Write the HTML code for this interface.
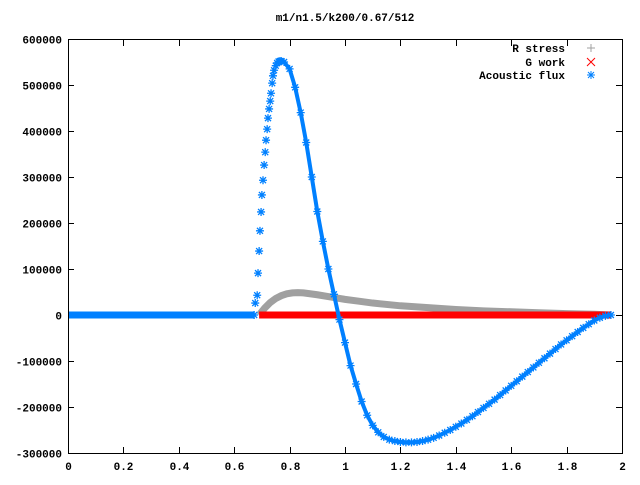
<!DOCTYPE html>
<html><head><meta charset="utf-8"><style>
body{margin:0;background:#fff}
svg text{font-family:"Liberation Mono","DejaVu Sans Mono",monospace;font-size:11px;font-weight:bold;fill:#000}
</style></head><body>
<svg id="chart" width="640" height="480" xmlns="http://www.w3.org/2000/svg">
<rect width="640" height="480" fill="#fff"/>
<text x="345" y="21" text-anchor="middle">m1/n1.5/k200/0.67/512</text>
<g id="grid"></g>
<g id="marks"></g>
<rect x="68.5" y="39.5" width="554" height="414" fill="none" stroke="#000"/>
<g id="legend">
<text x="565" y="52" text-anchor="end">R stress</text>
<text x="565" y="66" text-anchor="end">G work</text>
<text x="565" y="79" text-anchor="end">Acoustic flux</text>
<path d="M587 48h8M591 44v8" stroke="#a0a0a0"/>
<path d="M587 58l8 8M595 58l-8 8" stroke="#ff0000"/>
<path d="M587 75h8M591 71v8M588 72l6 6M594 72l-6 6" stroke="#0080ff"/>
</g>
</svg>
<script>
const xTicks=[0,0.2,0.4,0.6,0.8,1,1.2,1.4,1.6,1.8,2];
const xTickLabels=["0","0.2","0.4","0.6","0.8","1","1.2","1.4","1.6","1.8","2"];
const yTicks=[600000,500000,400000,300000,200000,100000,0,-100000,-200000,-300000];
const yTickLabels=["600000","500000","400000","300000","200000","100000","0","-100000","-200000","-300000"];
const fluxZeroX=[0,0.67];
const fluxX=[0.672,0.676,0.683,0.686,0.69,0.693,0.697,0.70,0.704,0.708,0.712,0.715,0.719,0.722,0.726,0.73,0.733,0.737,0.74,0.744,0.75,0.755,0.76,0.765,0.77,0.78,0.80,0.82,0.84,0.86,0.88,0.90,0.92,0.94,0.96,0.98,1.00,1.02,1.04,1.06,1.08,1.10,1.12,1.14,1.16,1.18,1.20,1.22,1.24,1.26,1.28,1.30,1.32,1.34,1.36,1.38,1.40,1.42,1.44,1.46,1.48,1.50,1.52,1.54,1.56,1.58,1.60,1.62,1.64,1.66,1.68,1.70,1.72,1.74,1.76,1.78,1.80,1.82,1.84,1.86,1.88,1.90,1.92,1.94,1.96];
const fluxY=[0,26000,43000,91000,139000,183000,224000,261000,293000,326000,354000,380000,404000,428000,448000,465000,482000,504000,520000,532000,542000,548000,551000,552000,552000,550000,535000,495000,440000,375000,300000,225000,160000,100000,45000,-10000,-60000,-110000,-150000,-188000,-218000,-240000,-255000,-265000,-271000,-274000,-276000,-277000,-277000,-276000,-274000,-271000,-267000,-262000,-256000,-250000,-243000,-236000,-228000,-220000,-211000,-202000,-193000,-184000,-174000,-164000,-154000,-144000,-134000,-124000,-114000,-104000,-94000,-84000,-74000,-64000,-55000,-46000,-37000,-28000,-20000,-12000,-6000,-2000,0];
const stressX=[0.69,0.71,0.73,0.75,0.77,0.79,0.81,0.83,0.85,0.87,0.90,0.95,1.0,1.05,1.1,1.2,1.3,1.4,1.5,1.6,1.7,1.8,1.9,1.96];
const stressY=[0,15000,27000,36000,42000,46000,48000,48500,48000,46500,44000,39000,34000,30000,26000,20000,16000,12000,9000,7000,5000,3000,1500,0];
const workX=[0.69,1.96];
const workY=[0,0];

const X=v=>68+v*277, Y=v=>315-v*0.00046;
const NS="http://www.w3.org/2000/svg";
const grid=document.getElementById('grid'), marks=document.getElementById('marks');
function mk(tag,attrs,parent){const e=document.createElementNS(NS,tag);for(const k in attrs)e.setAttribute(k,attrs[k]);parent.appendChild(e);return e;}
xTicks.forEach((t,i)=>{
  const x=Math.round(X(t))+0.5;
  const tk=mk('path',{d:`M${x} 453v-6M${x} 40v6`,stroke:'#000'},grid);
  
  
  const lb=mk('text',{x:x,y:470,'text-anchor':'middle'},grid);lb.textContent=xTickLabels[i];
  
  
});
yTicks.forEach((t,i)=>{
  const y=Math.round(Y(t))+0.5;
  const tk=mk('path',{d:`M68 ${y}h6M622 ${y}h-6`,stroke:'#000'},grid);
  
  
  const lb=mk('text',{x:62,y:y+4,'text-anchor':'end'},grid);lb.textContent=yTickLabels[i];
  
  
});
// acoustic flux zero band
const fz=mk('line',{x1:X(fluxZeroX[0]),y1:Y(0),x2:X(fluxZeroX[1]),y2:Y(0),stroke:'#0080ff','stroke-width':7},marks);


// R stress
const sp=mk('polyline',{points:stressX.map((x,i)=>X(x)+','+Y(stressY[i])).join(' '),fill:'none',stroke:'#a0a0a0','stroke-width':7},marks);


// G work
const wp=mk('line',{x1:X(workX[0]),y1:Y(workY[0]),x2:X(workX[1]),y2:Y(workY[1]),stroke:'#ff0000','stroke-width':7},marks);


// acoustic flux band (descending part dense)
const fl=mk('polyline',{points:fluxX.slice(24).map((x,i)=>X(x)+','+Y(fluxY[i+24])).join(' '),fill:'none',stroke:'#0080ff','stroke-width':4},marks);


fluxX.forEach((x,i)=>{
  const cx=X(x), cy=Y(fluxY[i]);
  const p=mk('path',{d:`M${cx-4} ${cy}h8M${cx} ${cy-4}v8M${cx-3} ${cy-3}l6 6M${cx+3} ${cy-3}l-6 6`,stroke:'#0080ff','stroke-width':1.3},marks);
  
  
});
</script>
</body></html>
